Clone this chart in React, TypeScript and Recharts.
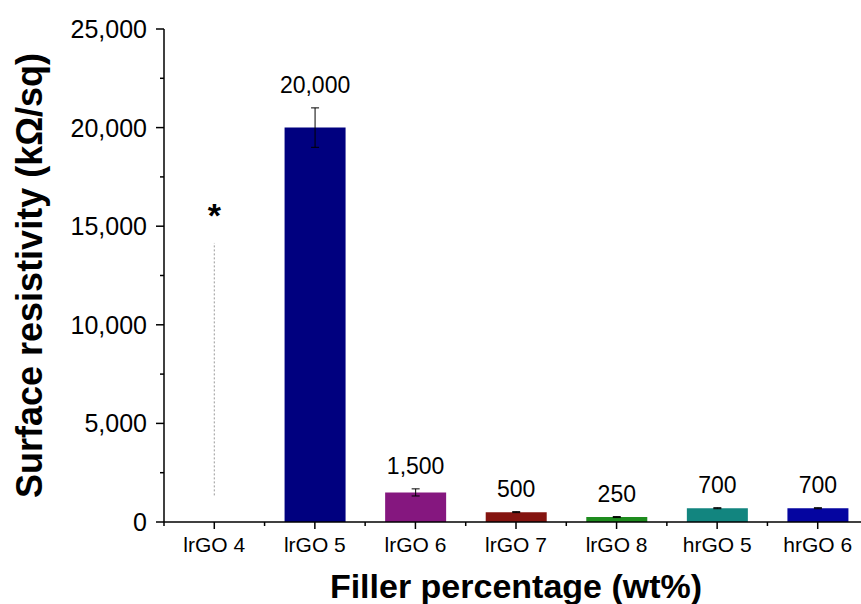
import React from "react";
import { BarChart, Bar, XAxis, YAxis, Cell, ErrorBar, LabelList, ReferenceLine } from "recharts";

// Surface resistivity vs filler content
const categories = ["lrGO 4", "lrGO 5", "lrGO 6", "lrGO 7", "lrGO 8", "hrGO 5", "hrGO 6"];
const values: (number | null)[] = [null, 20000, 1500, 500, 250, 700, 700];
const errors: (number | null)[] = [null, 1000, 180, 25, 25, 25, 25];
const colors = ["#ffffff", "#00007f", "#85177f", "#841410", "#1e8c1e", "#12857f", "#0505a0"];
const yTicks = [0, 2500, 5000, 7500, 10000, 12500, 15000, 17500, 20000, 22500, 25000];
// lrGO 4: too high to measure, marked with a dotted line and an asterisk
const starLine = { cat: "lrGO 4", from: 1350, to: 14150 };

const data = categories.map((cat, i) => ({ cat, value: values[i], err: errors[i] }));

const FONT = "'Liberation Sans', Arial, Helvetica, sans-serif";
const fmt = (v: number) => v.toLocaleString("en-US");

function YTick(props: any) {
  const { x, y, payload } = props;
  const major = payload.value % 5000 === 0;
  return (
    <g>
      <line x1={x - (major ? 8 : 4)} x2={x} y1={y} y2={y} stroke="#000" strokeWidth={1.5} />
      {major && (
        <text x={x - 17} y={y} dy={9} textAnchor="end" fontSize={25} fill="#000">
          {fmt(payload.value)}
        </text>
      )}
    </g>
  );
}

function XTick(props: any) {
  const { x, y, payload } = props;
  const half = payload.offset || 50;
  return (
    <g>
      <line x1={x} x2={x} y1={y} y2={y + 7} stroke="#000" strokeWidth={1.5} />
      <line x1={x - half} x2={x - half} y1={y} y2={y + 4} stroke="#000" strokeWidth={1.5} />
      <text x={x} y={y + 30} textAnchor="middle" fontSize={21} fill="#000">
        {payload.value}
      </text>
    </g>
  );
}

// value is the category name; the number and its error are looked up from it
function ValueLabel(props: any) {
  const { x, y, width, height, value } = props;
  const i = categories.indexOf(value);
  const v = i >= 0 ? values[i] : null;
  if (v == null || !v) return null;
  const err = errors[i] || 0;
  const top = y - (err * height) / v;
  return (
    <text x={x + width / 2} y={top - 15} textAnchor="middle" fontSize={23} fill="#000">
      {fmt(v)}
    </text>
  );
}

export default function App() {
  return (
    <div style={{ position: "absolute", left: 0, top: 0, width: 861, height: 604, overflow: "hidden", background: "#fff" }}>
      <BarChart
        width={868}
        height={604}
        data={data}
        margin={{ top: 29, right: 0, left: 0, bottom: 0 }}
        style={{ fontFamily: FONT }}
      >
        <XAxis
          dataKey="cat"
          height={82}
          interval={0}
          tickSize={0}
          tickMargin={0}
          tickLine={false}
          tick={<XTick />}
          axisLine={{ stroke: "#000", strokeWidth: 1.5 }}
          label={{
            value: "Filler percentage (wt%)",
            position: "insideBottom",
            offset: 6,
            fontSize: 34,
            fontWeight: 700,
            fill: "#000",
          }}
        />
        <YAxis
          width={164}
          domain={[0, 25000]}
          ticks={yTicks}
          interval={0}
          tickSize={0}
          tickMargin={0}
          tickLine={false}
          tick={<YTick />}
          axisLine={{ stroke: "#000", strokeWidth: 1.5 }}
          label={{
            value: "Surface resistivity (kΩ/sq)",
            angle: -90,
            position: "insideLeft",
            offset: 29,
            fontSize: 36,
            fontWeight: 700,
            fill: "#000",
            style: { textAnchor: "middle" },
          }}
        />
        <ReferenceLine
          segment={[
            { x: starLine.cat, y: starLine.from },
            { x: starLine.cat, y: starLine.to },
          ]}
          stroke="#999"
          strokeWidth={1}
          strokeDasharray="2 2"
          label={{ value: "*", position: "top", offset: 16, fontSize: 34, fontWeight: 700, fill: "#000" }}
        />
        <Bar dataKey="value" barSize={61} isAnimationActive={false}>
          {data.map((d, i) => (
            <Cell key={d.cat} fill={colors[i]} />
          ))}
          <ErrorBar dataKey="err" width={4} stroke="#000" strokeWidth={1} direction="y" />
          <LabelList dataKey="cat" content={<ValueLabel />} />
        </Bar>
      </BarChart>
    </div>
  );
}
